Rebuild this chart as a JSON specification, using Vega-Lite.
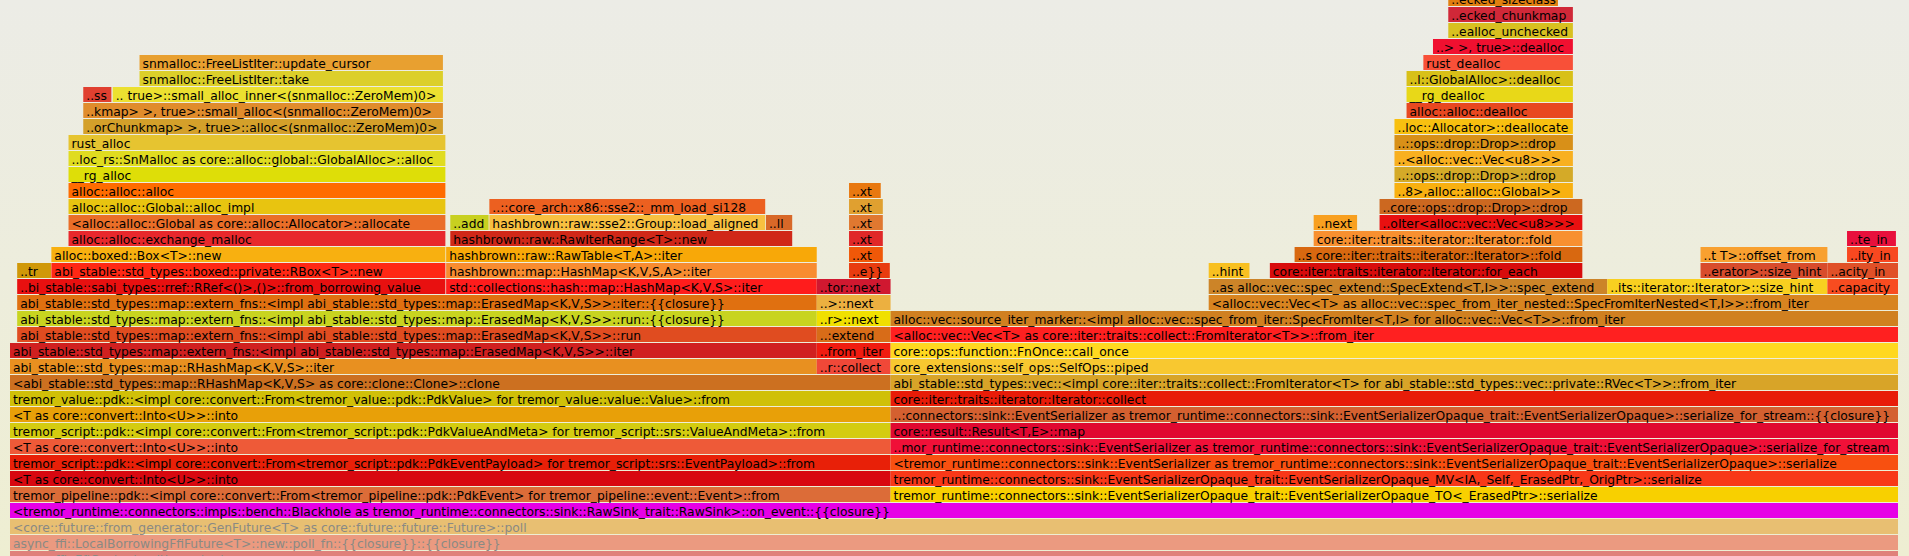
{
  "$schema": "https://vega.github.io/schema/vega-lite/v6.json",
  "width": 1909,
  "height": 556,
  "padding": 0,
  "autosize": {"type": "none"},
  "background": "#ececE4",
  "config": {
    "view": {
      "stroke": null,
      "fill": {"gradient": "linear", "x1": 0, "y1": 0, "x2": 0, "y2": 1, "stops": [{"offset": 0, "color": "#ececE6"}, {"offset": 1, "color": "#eeeed2"}]}
    }
  },
  "data": {
    "values": [
      {"k": 1, "d": 0, "s": 0, "e": 100, "n": "async_ffi::FfiContext::with_context"},
      {"k": 2, "d": 1, "s": 0, "e": 100, "n": "async_ffi::LocalBorrowingFfiFuture<T>::new::poll_fn::{{closure}}::{{closure}}"},
      {"k": 3, "d": 2, "s": 0, "e": 100, "n": "<core::future::from_generator::GenFuture<T> as core::future::future::Future>::poll"},
      {"k": 4, "d": 3, "s": 0, "e": 100, "n": "<tremor_runtime::connectors::impls::bench::Blackhole as tremor_runtime::connectors::sink::RawSink_trait::RawSink>::on_event::{{closure}}"},
      {"k": 5, "d": 4, "s": 0, "e": 46.64, "n": "tremor_pipeline::pdk::<impl core::convert::From<tremor_pipeline::pdk::PdkEvent> for tremor_pipeline::event::Event>::from"},
      {"k": 6, "d": 4, "s": 46.64, "e": 100, "n": "tremor_runtime::connectors::sink::EventSerializerOpaque_trait::EventSerializerOpaque_TO<_ErasedPtr>::serialize"},
      {"k": 7, "d": 5, "s": 0, "e": 46.64, "n": "<T as core::convert::Into<U>>::into"},
      {"k": 8, "d": 5, "s": 46.64, "e": 100, "n": "tremor_runtime::connectors::sink::EventSerializerOpaque_trait::EventSerializerOpaque_MV<IA,_Self,_ErasedPtr,_OrigPtr>::serialize"},
      {"k": 9, "d": 6, "s": 0, "e": 46.64, "n": "tremor_script::pdk::<impl core::convert::From<tremor_script::pdk::PdkEventPayload> for tremor_script::srs::EventPayload>::from"},
      {"k": 10, "d": 6, "s": 46.64, "e": 100, "n": "<tremor_runtime::connectors::sink::EventSerializer as tremor_runtime::connectors::sink::EventSerializerOpaque_trait::EventSerializerOpaque>::serialize"},
      {"k": 11, "d": 7, "s": 0, "e": 46.64, "n": "<T as core::convert::Into<U>>::into"},
      {"k": 12, "d": 7, "s": 46.64, "e": 100, "n": "..mor_runtime::connectors::sink::EventSerializer as tremor_runtime::connectors::sink::EventSerializerOpaque_trait::EventSerializerOpaque>::serialize_for_stream"},
      {"k": 13, "d": 8, "s": 0, "e": 46.64, "n": "tremor_script::pdk::<impl core::convert::From<tremor_script::pdk::PdkValueAndMeta> for tremor_script::srs::ValueAndMeta>::from"},
      {"k": 14, "d": 8, "s": 46.64, "e": 100, "n": "core::result::Result<T,E>::map"},
      {"k": 15, "d": 9, "s": 0, "e": 46.64, "n": "<T as core::convert::Into<U>>::into"},
      {"k": 16, "d": 9, "s": 46.64, "e": 100, "n": "..:connectors::sink::EventSerializer as tremor_runtime::connectors::sink::EventSerializerOpaque_trait::EventSerializerOpaque>::serialize_for_stream::{{closure}}"},
      {"k": 17, "d": 10, "s": 0, "e": 46.64, "n": "tremor_value::pdk::<impl core::convert::From<tremor_value::pdk::PdkValue> for tremor_value::value::Value>::from"},
      {"k": 18, "d": 10, "s": 46.64, "e": 100, "n": "core::iter::traits::iterator::Iterator::collect"},
      {"k": 19, "d": 11, "s": 0, "e": 46.64, "n": "<abi_stable::std_types::map::RHashMap<K,V,S> as core::clone::Clone>::clone"},
      {"k": 20, "d": 11, "s": 46.64, "e": 100, "n": "abi_stable::std_types::vec::<impl core::iter::traits::collect::FromIterator<T> for abi_stable::std_types::vec::private::RVec<T>>::from_iter"},
      {"k": 21, "d": 12, "s": 0, "e": 42.73, "n": "abi_stable::std_types::map::RHashMap<K,V,S>::iter"},
      {"k": 22, "d": 12, "s": 42.73, "e": 46.64, "n": "..r::collect"},
      {"k": 23, "d": 12, "s": 46.64, "e": 100, "n": "core_extensions::self_ops::SelfOps::piped"},
      {"k": 24, "d": 13, "s": 0, "e": 42.73, "n": "abi_stable::std_types::map::extern_fns::<impl abi_stable::std_types::map::ErasedMap<K,V,S>>::iter"},
      {"k": 25, "d": 13, "s": 42.73, "e": 46.64, "n": "..from_iter"},
      {"k": 26, "d": 13, "s": 46.64, "e": 100, "n": "core::ops::function::FnOnce::call_once"},
      {"k": 27, "d": 14, "s": 0.38, "e": 42.73, "n": "abi_stable::std_types::map::extern_fns::<impl abi_stable::std_types::map::ErasedMap<K,V,S>>::run"},
      {"k": 28, "d": 14, "s": 42.73, "e": 46.64, "n": "..:extend"},
      {"k": 29, "d": 14, "s": 46.64, "e": 100, "n": "<alloc::vec::Vec<T> as core::iter::traits::collect::FromIterator<T>>::from_iter"},
      {"k": 30, "d": 15, "s": 0.38, "e": 42.73, "n": "abi_stable::std_types::map::extern_fns::<impl abi_stable::std_types::map::ErasedMap<K,V,S>>::run::{{closure}}"},
      {"k": 31, "d": 15, "s": 42.73, "e": 46.64, "n": "..r>::next"},
      {"k": 32, "d": 15, "s": 46.64, "e": 100, "n": "alloc::vec::source_iter_marker::<impl alloc::vec::spec_from_iter::SpecFromIter<T,I> for alloc::vec::Vec<T>>::from_iter"},
      {"k": 33, "d": 16, "s": 0.38, "e": 42.73, "n": "abi_stable::std_types::map::extern_fns::<impl abi_stable::std_types::map::ErasedMap<K,V,S>>::iter::{{closure}}"},
      {"k": 34, "d": 16, "s": 42.73, "e": 46.64, "n": "..>::next"},
      {"k": 35, "d": 16, "s": 63.49, "e": 100, "n": "<alloc::vec::Vec<T> as alloc::vec::spec_from_iter_nested::SpecFromIterNested<T,I>>::from_iter"},
      {"k": 36, "d": 17, "s": 0.38, "e": 23.06, "n": "..bi_stable::sabi_types::rref::RRef<()>,()>::from_borrowing_value"},
      {"k": 37, "d": 17, "s": 23.10, "e": 42.73, "n": "std::collections::hash::map::HashMap<K,V,S>::iter"},
      {"k": 38, "d": 17, "s": 42.73, "e": 46.64, "n": "..tor::next"},
      {"k": 39, "d": 17, "s": 63.49, "e": 84.60, "n": "..as alloc::vec::spec_extend::SpecExtend<T,I>>::spec_extend"},
      {"k": 40, "d": 17, "s": 84.60, "e": 96.26, "n": "..its::iterator::Iterator>::size_hint"},
      {"k": 41, "d": 17, "s": 96.26, "e": 100, "n": "..capacity"},
      {"k": 42, "d": 18, "s": 0.38, "e": 2.17, "n": "..tr"},
      {"k": 43, "d": 18, "s": 2.19, "e": 23.06, "n": "abi_stable::std_types::boxed::private::RBox<T>::new"},
      {"k": 44, "d": 18, "s": 23.10, "e": 42.73, "n": "hashbrown::map::HashMap<K,V,S,A>::iter"},
      {"k": 45, "d": 18, "s": 44.44, "e": 46.60, "n": "..e}}"},
      {"k": 46, "d": 18, "s": 63.49, "e": 65.65, "n": "..hint"},
      {"k": 47, "d": 18, "s": 66.73, "e": 83.28, "n": "core::iter::traits::iterator::Iterator::for_each"},
      {"k": 48, "d": 18, "s": 89.54, "e": 96.26, "n": "..erator>::size_hint"},
      {"k": 49, "d": 18, "s": 96.26, "e": 100, "n": "..acity_in"},
      {"k": 50, "d": 19, "s": 2.19, "e": 23.06, "n": "alloc::boxed::Box<T>::new"},
      {"k": 51, "d": 19, "s": 23.10, "e": 42.73, "n": "hashbrown::raw::RawTable<T,A>::iter"},
      {"k": 52, "d": 19, "s": 44.44, "e": 46.23, "n": "..xt"},
      {"k": 53, "d": 19, "s": 68.04, "e": 83.28, "n": "..s core::iter::traits::iterator::Iterator>::fold"},
      {"k": 54, "d": 19, "s": 89.54, "e": 96.26, "n": "..t T>::offset_from"},
      {"k": 55, "d": 19, "s": 97.30, "e": 100, "n": "..ity_in"},
      {"k": 56, "d": 20, "s": 3.10, "e": 23.06, "n": "alloc::alloc::exchange_malloc"},
      {"k": 57, "d": 20, "s": 23.32, "e": 41.43, "n": "hashbrown::raw::RawIterRange<T>::new"},
      {"k": 58, "d": 20, "s": 44.44, "e": 46.23, "n": "..xt"},
      {"k": 59, "d": 20, "s": 69.05, "e": 83.28, "n": "core::iter::traits::iterator::Iterator::fold"},
      {"k": 60, "d": 20, "s": 97.30, "e": 99.89, "n": "..te_in"},
      {"k": 61, "d": 21, "s": 3.10, "e": 23.06, "n": "<alloc::alloc::Global as core::alloc::Allocator>::allocate"},
      {"k": 62, "d": 21, "s": 23.32, "e": 25.35, "n": "..add"},
      {"k": 63, "d": 21, "s": 25.39, "e": 40.00, "n": "hashbrown::raw::sse2::Group::load_aligned"},
      {"k": 64, "d": 21, "s": 40.04, "e": 41.43, "n": "..ll"},
      {"k": 65, "d": 21, "s": 44.44, "e": 46.23, "n": "..xt"},
      {"k": 66, "d": 21, "s": 69.05, "e": 71.35, "n": "..next"},
      {"k": 67, "d": 21, "s": 72.54, "e": 83.28, "n": "..oIter<alloc::vec::Vec<u8>>>"},
      {"k": 68, "d": 22, "s": 3.10, "e": 23.06, "n": "alloc::alloc::Global::alloc_impl"},
      {"k": 69, "d": 22, "s": 25.39, "e": 40.00, "n": "..::core_arch::x86::sse2::_mm_load_si128"},
      {"k": 70, "d": 22, "s": 44.44, "e": 46.23, "n": "..xt"},
      {"k": 71, "d": 22, "s": 72.54, "e": 83.28, "n": "..core::ops::drop::Drop>::drop"},
      {"k": 72, "d": 23, "s": 3.10, "e": 23.06, "n": "alloc::alloc::alloc"},
      {"k": 73, "d": 23, "s": 44.44, "e": 46.12, "n": "..xt"},
      {"k": 74, "d": 23, "s": 73.33, "e": 82.78, "n": "..8>,alloc::alloc::Global>>"},
      {"k": 75, "d": 24, "s": 3.10, "e": 23.06, "n": "__rg_alloc"},
      {"k": 76, "d": 24, "s": 73.33, "e": 82.78, "n": "..::ops::drop::Drop>::drop"},
      {"k": 77, "d": 25, "s": 3.10, "e": 23.06, "n": "..loc_rs::SnMalloc as core::alloc::global::GlobalAlloc>::alloc"},
      {"k": 78, "d": 25, "s": 73.33, "e": 82.78, "n": "..<alloc::vec::Vec<u8>>>"},
      {"k": 79, "d": 26, "s": 3.10, "e": 23.06, "n": "rust_alloc"},
      {"k": 80, "d": 26, "s": 73.33, "e": 82.78, "n": "..::ops::drop::Drop>::drop"},
      {"k": 81, "d": 27, "s": 3.88, "e": 22.93, "n": "..orChunkmap> >, true>::alloc<(snmalloc::ZeroMem)0>"},
      {"k": 82, "d": 27, "s": 73.33, "e": 82.78, "n": "..loc::Allocator>::deallocate"},
      {"k": 83, "d": 28, "s": 3.88, "e": 22.93, "n": "..kmap> >, true>::small_alloc<(snmalloc::ZeroMem)0>"},
      {"k": 84, "d": 28, "s": 73.97, "e": 82.78, "n": "alloc::alloc::dealloc"},
      {"k": 85, "d": 29, "s": 3.88, "e": 5.37, "n": "..ss"},
      {"k": 86, "d": 29, "s": 5.44, "e": 22.93, "n": ".. true>::small_alloc_inner<(snmalloc::ZeroMem)0>"},
      {"k": 87, "d": 29, "s": 73.97, "e": 82.78, "n": "__rg_dealloc"},
      {"k": 88, "d": 30, "s": 6.86, "e": 22.93, "n": "snmalloc::FreeListIter::take"},
      {"k": 89, "d": 30, "s": 73.97, "e": 82.78, "n": "..l::GlobalAlloc>::dealloc"},
      {"k": 90, "d": 31, "s": 6.86, "e": 22.93, "n": "snmalloc::FreeListIter::update_cursor"},
      {"k": 91, "d": 31, "s": 74.86, "e": 82.78, "n": "rust_dealloc"},
      {"k": 92, "d": 32, "s": 75.37, "e": 82.78, "n": "..> >, true>::dealloc"},
      {"k": 93, "d": 33, "s": 76.18, "e": 82.78, "n": "..ealloc_unchecked"},
      {"k": 94, "d": 34, "s": 76.18, "e": 82.78, "n": "..ecked_chunkmap"},
      {"k": 95, "d": 35, "s": 76.18, "e": 81.99, "n": "..ecked_sizeclass"}
    ]
  },
  "encoding": {
    "x": {"field": "s", "type": "quantitative", "axis": null, "scale": {"domain": [-0.5297, 100.5826], "nice": false, "zero": false}},
    "y": {"field": "d", "type": "ordinal", "axis": null, "scale": {"domain": [35,34,33,32,31,30,29,28,27,26,25,24,23,22,21,20,19,18,17,16,15,14,13,12,11,10,9,8,7,6,5,4,3,2,1,0], "range": [-9.5, 566.5], "paddingInner": 0.0625, "paddingOuter": 0.03125}}
  },
  "layer": [
    {
      "mark": {"type": "rect", "clip": true},
      "encoding": {
        "x2": {"field": "e"},
        "color": {
          "field": "k", "type": "nominal", "legend": null,
          "scale": {
            "domain": [1,2,3,4,5,6,7,8,9,10,11,12,13,14,15,16,17,18,19,20,21,22,23,24,25,26,27,28,29,30,31,32,33,34,35,36,37,38,39,40,41,42,43,44,45,46,47,48,49,50,51,52,53,54,55,56,57,58,59,60,61,62,63,64,65,66,67,68,69,70,71,72,73,74,75,76,77,78,79,80,81,82,83,84,85,86,87,88,89,90,91,92,93,94,95],
            "range": ["#e0807a","#eb9a80","#e8bf72","#e600e6","#dc6c38","#f8d000","#d80810","#f83818","#e82008","#f85010","#ee5a38","#f01038","#d4cc10","#e00830","#e8a008","#d46030","#d0c008","#e81c08","#cc7020","#d8a428","#e89020","#f04838","#f8c830","#d02020","#f01c10","#ffd820","#e04c20","#d86c18","#ff2020","#c8d420","#f0e000","#d08020","#e07010","#ecb040","#d88420","#e81010","#ff1c1c","#d01830","#cc8428","#f8d020","#f84c20","#d09808","#ff2814","#f88c30","#e83c10","#f8c020","#d80c0c","#d84c2c","#e05028","#f8b010","#f8a808","#f05808","#d86810","#f8a030","#f84820","#e8282c","#d02818","#e02828","#f89030","#e8103c","#ea6e28","#c8d020","#f8c040","#d86828","#e07830","#f8a020","#e81010","#e8c410","#ec6020","#e0a030","#cc6820","#ff6c00","#e87810","#f8b010","#dede08","#d4aa28","#e0dc20","#f8b020","#e6c430","#d89018","#d4a02a","#f8c010","#e08c2c","#e84820","#e04030","#ece030","#e8d818","#dccf2a","#d8c018","#e8a030","#f85038","#f01030","#d8c020","#d02838","#e08010"]
          }
        }
      }
    },
    {
      "mark": {"type": "text", "align": "left", "baseline": "middle", "dx": 3, "dy": 1, "font": "DejaVu Sans", "fontSize": 12.3, "clip": true},
      "encoding": {
        "text": {"field": "n"},
        "color": {"condition": {"test": "datum.d <= 2", "value": "#8a8a84"}, "value": "#000000"}
      }
    }
  ]
}
